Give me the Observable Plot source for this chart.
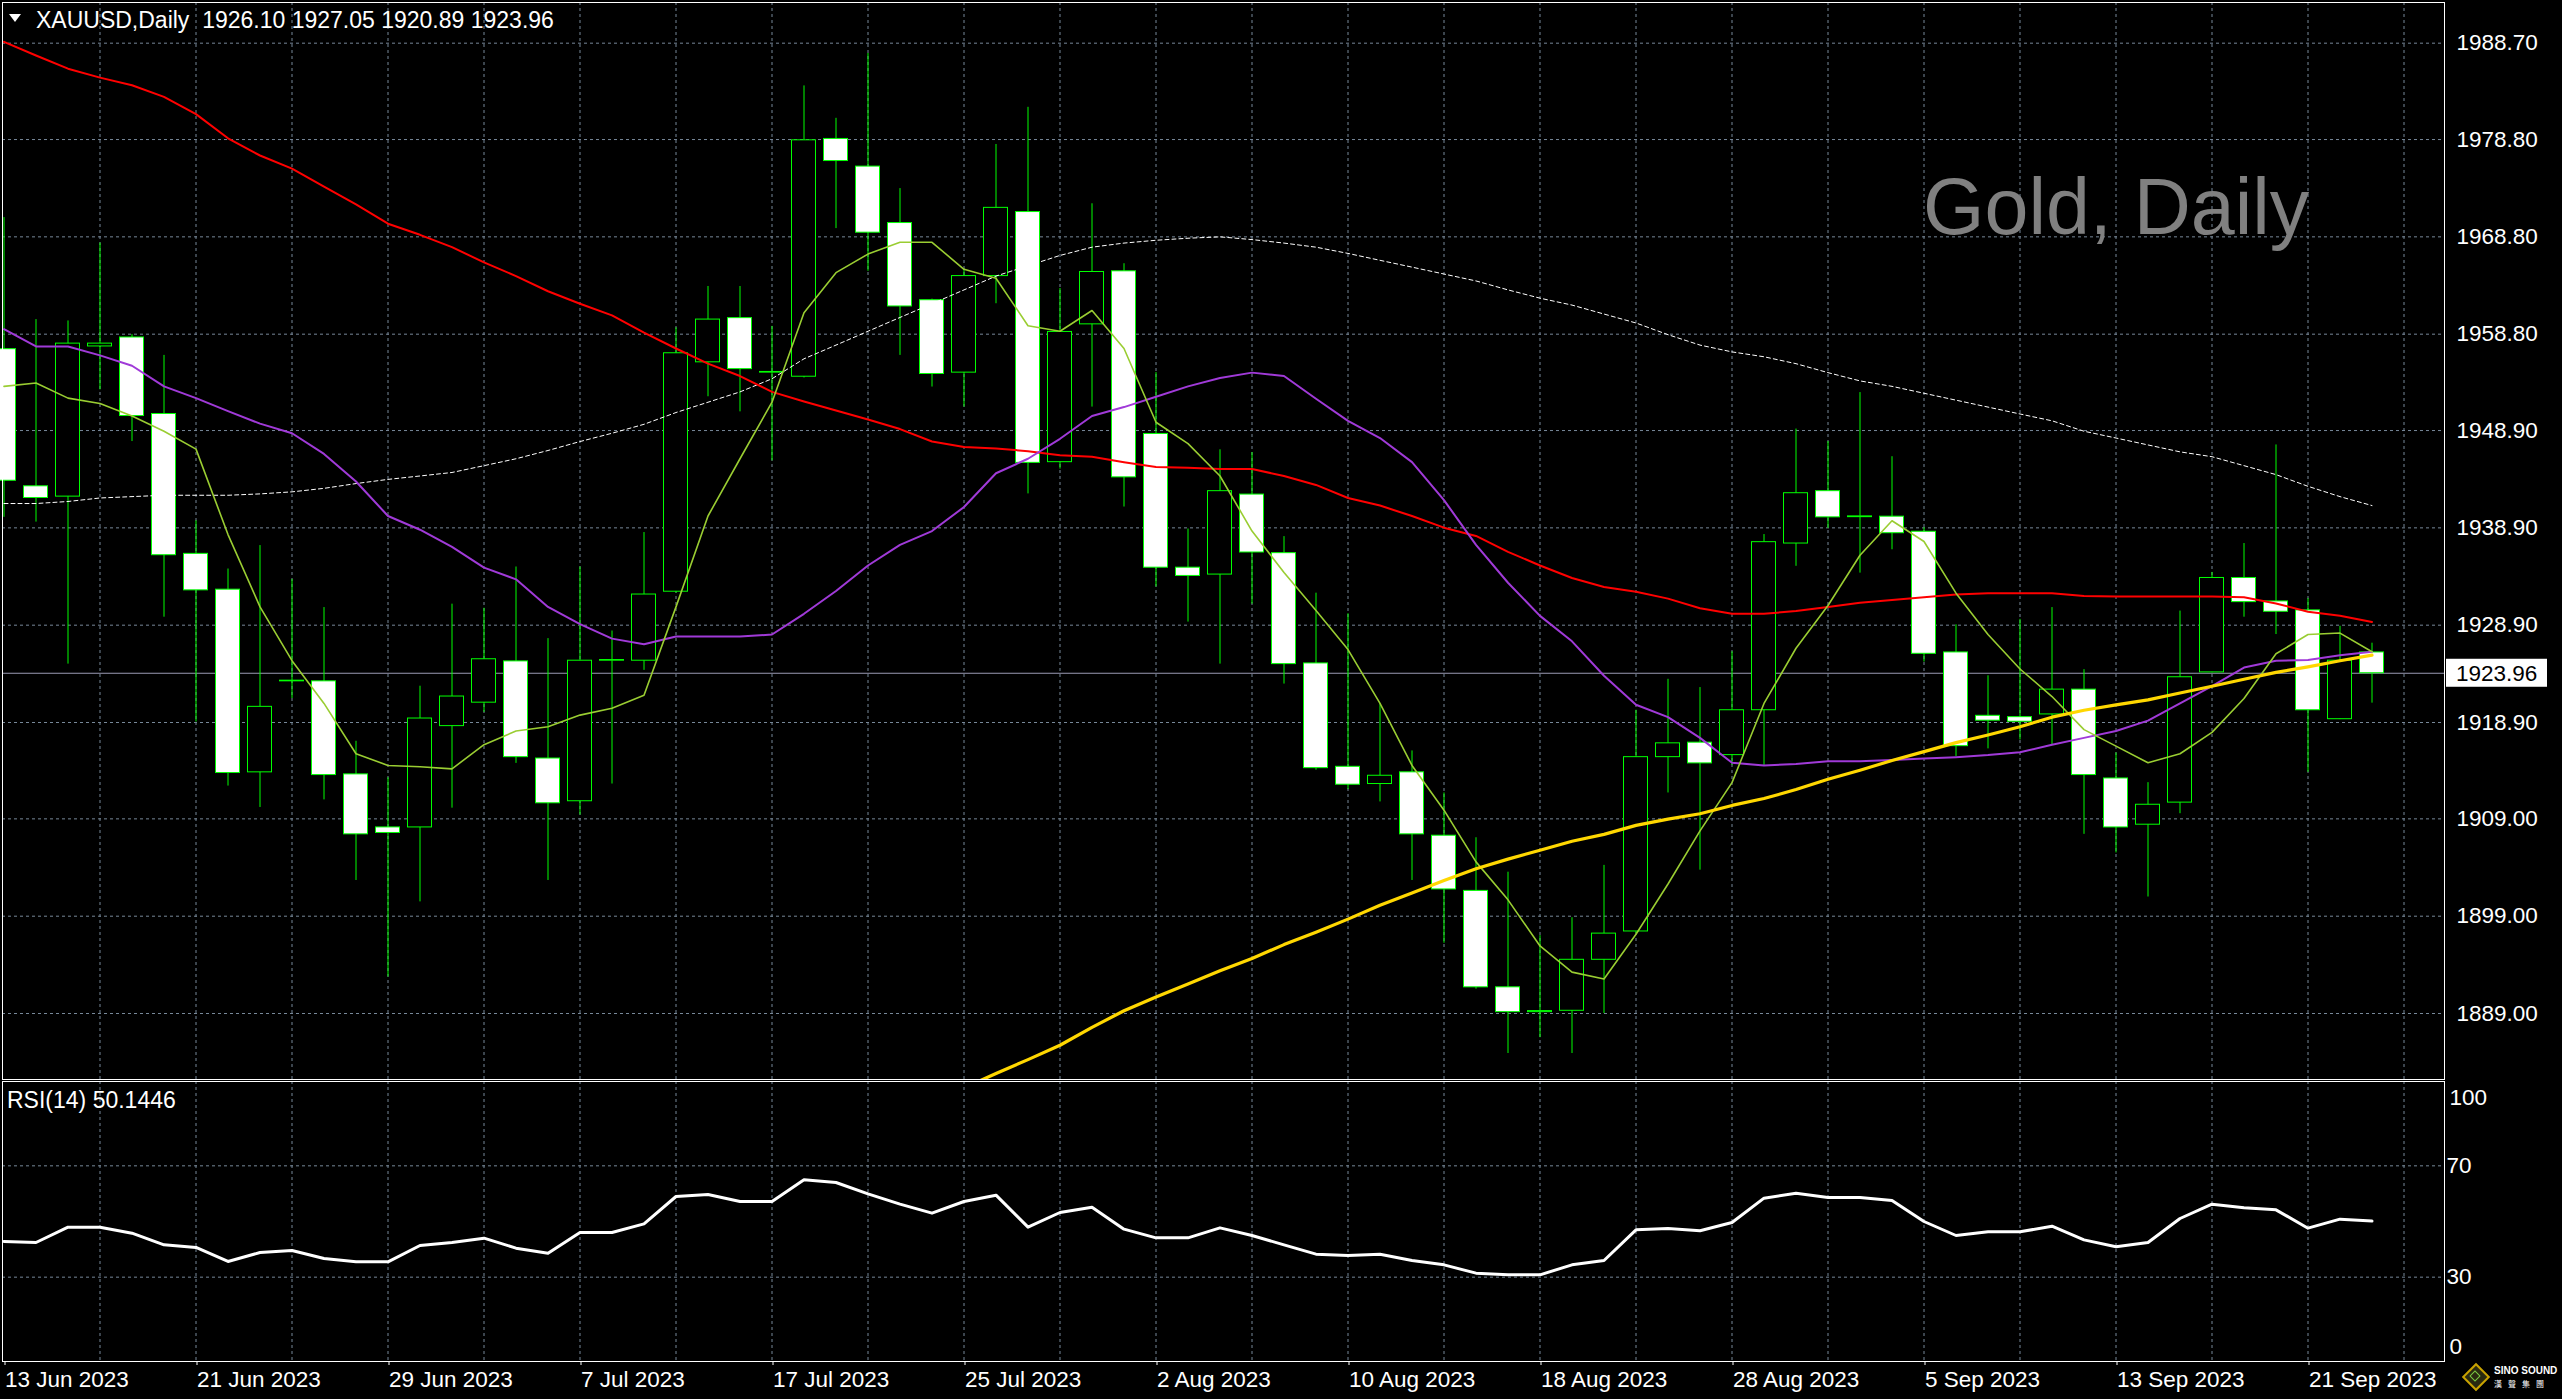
<!DOCTYPE html>
<html><head><meta charset="utf-8">
<script src="https://cdn.jsdelivr.net/npm/d3@7"></script>
<script src="https://cdn.jsdelivr.net/npm/@observablehq/plot@0.6"></script>
<style>
html,body{margin:0;padding:0;background:#000;}
#wrap{position:relative;width:2562px;height:1399px;background:#000;overflow:hidden;font-family:"Liberation Sans",Arial,sans-serif;}
#main{position:absolute;left:0;top:0;}
#rsi{position:absolute;left:0;top:1080px;}
.t{position:absolute;white-space:pre;color:#fff;line-height:1;font-family:"Liberation Sans",Arial,sans-serif;}
#tri{position:absolute;left:9px;top:14px;width:0;height:0;border-left:6px solid transparent;border-right:6px solid transparent;border-top:8px solid #fff;}
#logoD{position:absolute;left:2466px;top:1367px;width:16px;height:16px;transform:rotate(45deg);border:2px solid #c9a200;background:#2a2a10;}
#logoD2{position:absolute;left:2471px;top:1372px;width:6px;height:6px;transform:rotate(45deg);border:1px solid #7ac943;}
</style></head>
<body><div id="wrap">
<div id="main"></div><div id="rsi"></div>
<div id="tri"></div>
<div class="t" id="hdr" style="left:36px;top:8.5px;font-size:23px;">XAUUSD,Daily  1926.10 1927.05 1920.89 1923.96</div>
<div class="t" id="wm" style="left:1923px;top:167px;font-size:79px;color:#808080;">Gold, Daily</div>
<div class="t" id="rsiLbl" style="left:7px;top:1088.5px;font-size:23px;">RSI(14) 50.1446</div>
<div id="logoD"></div><div id="logoD2"></div>
<div class="t" style="left:2494px;top:1366px;font-size:10px;font-weight:bold;">SINO SOUND</div>
<div class="t" style="left:2494px;top:1380px;font-size:8px;letter-spacing:6px;font-family:'Noto Sans CJK TC',sans-serif;">漢聲集團</div>
</div>
<script>
// ---- data ----
const tickIdx = [0, 6, 12, 18, 24, 30, 36, 42, 48, 54, 60, 66, 72];
const tickLabels = ["13 Jun 2023","21 Jun 2023","29 Jun 2023","7 Jul 2023","17 Jul 2023","25 Jul 2023","2 Aug 2023","10 Aug 2023","18 Aug 2023","28 Aug 2023","5 Sep 2023","13 Sep 2023","21 Sep 2023"];
const priceTicks = [1988.70, 1978.80, 1968.80, 1958.80, 1948.90, 1938.90, 1928.90, 1918.90, 1909.00, 1899.00, 1889.00];
const rsiTicks = [70, 30];
const lastClose = 1923.96;

const opens = [1957.26,1943.17,1942.11,1957.54,1958.46,1950.60,1936.23,1932.55,1913.78,1923.13,
1923.13,1913.57,1908.12,1908.12,1918.53,1920.94,1925.18,1915.20,1910.81,1925.25,
1925.25,1932.34,1955.91,1960.45,1954.85,1954.43,1978.86,1976.02,1970.22,1962.29,
1954.85,1964.77,1971.35,1945.65,1959.81,1965.26,1948.55,1934.81,1934.10,1942.32,
1936.30,1924.97,1914.35,1912.58,1913.78,1907.27,1901.60,1891.69,1889.14,1889.28,
1894.52,1897.43,1915.34,1916.83,1915.55,1920.16,1937.29,1942.67,1940.00,1940.05,
1938.50,1926.10,1919.59,1919.45,1919.73,1922.28,1913.15,1908.40,1910.67,1924.05,
1933.75,1931.34,1930.42,1919.24,1926.10];
const highs = [1970.78,1960.30,1960.16,1968.16,1958.75,1956.62,1939.63,1934.67,1937.08,1933.61,
1930.71,1916.97,1913.22,1922.63,1931.06,1930.64,1934.88,1927.52,1934.88,1928.30,
1938.42,1959.46,1963.70,1963.70,1959.60,1984.31,1980.98,1987.64,1973.76,1962.40,
1965.47,1978.29,1982.11,1963.49,1972.20,1966.04,1954.85,1938.78,1946.92,1946.64,
1938.00,1932.19,1930.07,1920.86,1915.98,1911.66,1907.06,1903.52,1897.00,1898.84,
1904.22,1920.16,1923.34,1922.49,1926.17,1938.21,1949.05,1947.77,1952.80,1946.21,
1938.92,1928.94,1923.70,1929.50,1930.71,1924.33,1915.77,1912.72,1930.35,1934.32,
1937.29,1947.42,1931.63,1928.79,1927.05];
const lows = [1939.98,1939.49,1924.90,1953.08,1947.77,1929.72,1918.95,1912.37,1910.17,1921.36,
1910.95,1902.67,1892.75,1900.47,1910.10,1919.94,1914.70,1902.67,1909.39,1912.58,
1924.26,1932.20,1952.37,1950.82,1945.79,1954.30,1969.65,1965.26,1956.62,1953.37,
1951.31,1961.93,1942.39,1944.94,1951.31,1941.04,1932.83,1929.22,1924.90,1931.06,
1922.85,1914.00,1912.01,1910.74,1902.67,1896.22,1891.50,1884.89,1886.52,1884.89,
1889.00,1897.20,1911.66,1903.73,1914.49,1914.49,1934.95,1938.85,1934.25,1936.65,
1925.11,1915.41,1916.19,1917.11,1916.62,1907.41,1905.50,1900.97,1909.53,1924.00,
1929.72,1927.94,1913.78,1919.20,1920.89];
const closes = [1943.74,1941.97,1957.83,1957.83,1950.39,1936.09,1932.48,1913.71,1920.51,1923.20,
1913.50,1907.41,1907.55,1919.31,1921.57,1925.40,1915.34,1910.60,1925.25,1925.32,
1932.05,1956.84,1960.30,1955.21,1954.92,1978.72,1976.59,1969.23,1961.65,1954.71,
1964.77,1971.78,1945.58,1959.03,1965.19,1944.09,1934.81,1933.96,1942.67,1936.37,
1924.90,1914.21,1912.51,1913.43,1907.41,1901.75,1891.69,1889.14,1889.25,1894.52,
1897.21,1915.34,1916.76,1914.70,1920.16,1937.43,1942.46,1939.98,1940.08,1938.35,
1925.96,1916.47,1919.09,1918.98,1922.28,1913.50,1908.12,1910.45,1923.55,1933.75,
1931.27,1930.28,1920.16,1925.25,1923.96];

const maFast = [1953.44,1953.79,1952.23,1951.67,1950.39,1948.83,1946.99,1938.21,1930.78,1925.25,
1920.86,1915.69,1914.49,1914.35,1914.14,1916.62,1918.03,1918.46,1919.66,1920.37,
1921.71,1930.78,1940.12,1946.00,1951.81,1961.01,1965.12,1967.03,1968.24,1968.24,
1965.47,1964.55,1959.67,1959.10,1961.23,1957.33,1949.75,1947.56,1944.23,1938.57,
1934.32,1930.42,1926.39,1920.86,1914.49,1909.89,1904.58,1900.68,1895.94,1893.25,
1892.54,1897.14,1902.31,1907.76,1912.72,1920.86,1926.53,1930.92,1936.09,1939.63,
1937.50,1932.19,1927.94,1924.40,1921.57,1918.17,1916.47,1914.77,1915.69,1917.89,
1921.36,1925.96,1927.94,1928.09,1926.17];
const maPurple = [1959.31,1957.54,1957.54,1956.62,1955.56,1953.44,1952.23,1950.89,1949.61,1948.62,
1946.50,1943.66,1940.12,1938.71,1936.94,1934.81,1933.61,1930.78,1929.01,1927.52,
1926.95,1927.73,1927.73,1927.73,1927.94,1930.07,1932.41,1935.03,1937.15,1938.57,
1941.04,1944.51,1946.00,1948.05,1950.39,1951.31,1952.37,1953.44,1954.29,1954.85,
1954.50,1952.16,1949.90,1948.13,1945.65,1941.75,1937.15,1933.26,1929.86,1927.24,
1923.70,1920.72,1919.45,1917.32,1914.77,1914.49,1914.63,1914.92,1914.92,1915.06,
1915.20,1915.34,1915.55,1915.84,1916.62,1917.32,1918.03,1919.09,1920.86,1922.63,
1924.55,1925.25,1925.32,1925.82,1926.17];
const maRed = [1988.84,1987.43,1986.08,1985.16,1984.38,1983.18,1981.41,1978.93,1977.16,1975.81,
1973.97,1972.13,1970.15,1969.01,1967.74,1966.18,1964.77,1963.21,1961.93,1960.73,
1958.96,1957.33,1955.77,1954.50,1952.87,1951.88,1950.96,1950.04,1949.05,1947.77,
1947.21,1947.06,1946.78,1946.36,1946.21,1945.65,1945.15,1945.08,1944.94,1944.94,
1944.23,1943.31,1941.97,1941.19,1940.12,1938.92,1938.07,1936.44,1935.03,1933.75,
1932.83,1932.34,1931.63,1930.64,1930.07,1930.07,1930.35,1930.78,1931.20,1931.49,
1931.77,1932.05,1932.19,1932.19,1932.19,1931.91,1931.84,1931.84,1931.84,1931.84,
1931.77,1931.13,1930.28,1929.86,1929.22];
const maWhite = [1941.40,1941.40,1941.61,1941.97,1942.11,1942.25,1942.25,1942.25,1942.39,1942.60,
1942.96,1943.45,1943.88,1944.23,1944.59,1945.29,1946.00,1946.85,1947.77,1948.62,
1949.54,1950.75,1951.81,1952.87,1954.22,1956.27,1957.68,1959.10,1960.52,1961.93,
1963.35,1964.77,1965.83,1966.89,1967.74,1968.16,1968.45,1968.66,1968.80,1968.52,
1968.16,1967.74,1967.10,1966.39,1965.69,1964.98,1964.27,1963.35,1962.50,1961.79,
1960.87,1959.95,1958.75,1957.68,1956.98,1956.48,1955.77,1954.85,1954.00,1953.44,
1952.73,1952.02,1951.31,1950.60,1949.90,1948.83,1948.13,1947.42,1946.71,1946.21,
1945.29,1944.37,1943.17,1942.11,1941.19];
const goldStart = 30;
const maGold = [1881.35,1882.84,1884.26,1885.74,1887.58,1889.28,1890.70,1892.04,1893.39,1894.66,
1896.08,1897.35,1898.70,1900.12,1901.39,1902.66,1903.87,1904.86,1905.78,1906.70,
1907.41,1908.33,1908.97,1909.53,1910.38,1911.09,1912.01,1913.07,1914.00,1914.99,
1915.91,1916.83,1917.61,1918.46,1919.45,1920.16,1920.72,1921.22,1921.93,1922.63,
1923.34,1924.05,1924.62,1925.25,1925.82];
const rsi = [42.81,42.46,47.96,47.96,45.81,41.62,40.66,35.63,38.86,39.58,
36.71,35.51,35.51,41.38,42.46,44.01,40.42,38.62,46.05,46.05,
49.16,58.98,59.70,57.19,57.19,64.97,64.01,59.94,56.23,52.99,
57.19,59.46,47.96,53.23,55.15,47.25,44.13,44.13,47.72,44.97,
41.62,38.26,37.78,38.26,35.99,34.43,31.44,30.84,30.84,34.43,
35.99,47.01,47.49,46.65,49.64,58.38,60.18,58.62,58.62,57.54,
50.00,44.97,46.29,46.29,48.32,43.41,40.90,42.46,51.08,56.23,
54.91,54.19,47.60,50.84,50.14];

// ---- build ----
const rows = opens.map((o, i) => ({i, o, h: highs[i], l: lows[i], c: closes[i]}));
const bulls = rows.filter(d => d.c >= d.o);
const bears = rows.filter(d => d.c < d.o);
const vGrid = d3.range(3, 76, 3);
const xDomain = [-0.046875, 76.265625];
const gridStyle = {stroke: "#778899", strokeDasharray: "3,3", strokeWidth: 1};
const green = "#00ff00";
const baseStyle = {background: "#000", color: "#fff", fontFamily: "'Liberation Sans', Arial, sans-serif", fontSize: "22.5px", overflow: "visible"};
const series = (arr, off = 0) => arr.map((v, k) => ({i: k + off, v}));

const main = Plot.plot({
  width: 2562, height: 1080,
  marginLeft: 2, marginRight: 118, marginTop: 2, marginBottom: 1,
  style: baseStyle,
  x: {type: "linear", domain: xDomain, axis: null, label: null},
  y: {domain: [1882.22, 1992.88], axis: null, label: null},
  marks: [
    Plot.ruleX(vGrid, gridStyle),
    Plot.ruleY(priceTicks, gridStyle),
    Plot.ruleY([lastClose], {stroke: "#9a9ab4", strokeWidth: 1}),
    Plot.ruleX(rows, {x: "i", y1: "l", y2: "h", stroke: green, strokeWidth: 1}),
    Plot.rect(bulls, {x1: d => d.i - 0.375, x2: d => d.i + 0.375, y1: "o", y2: "c", fill: "#000", stroke: green, strokeWidth: 1}),
    Plot.rect(bears, {x1: d => d.i - 0.375, x2: d => d.i + 0.375, y1: "c", y2: "o", fill: "#fff", stroke: green, strokeWidth: 1}),
    Plot.line(series(maWhite), {x: "i", y: "v", stroke: "#ffffff", strokeWidth: 1, strokeDasharray: "4,3"}),
    Plot.line(series(maRed), {x: "i", y: "v", stroke: "#ff0000", strokeWidth: 2}),
    Plot.line(series(maPurple), {x: "i", y: "v", stroke: "#a03ad8", strokeWidth: 2}),
    Plot.line(series(maFast), {x: "i", y: "v", stroke: "#9acd32", strokeWidth: 1.6}),
    Plot.line(series(maGold, goldStart), {x: "i", y: "v", stroke: "#ffd700", strokeWidth: 3.2, clip: true}),
    Plot.frame({stroke: "#fff", strokeWidth: 1}),
    Plot.axisY(priceTicks, {anchor: "right", label: null, tickSize: 0, tickPadding: 12, tickFormat: d => d.toFixed(2), fill: "#fff"})
  ]
});
document.getElementById("main").appendChild(main);

// current price tag, positioned through the plot's own scales
{
  const ys = main.scale("y"), xs = main.scale("x");
  const yy = ys.apply(lastClose);
  const xr = xs.range[1];
  const g = d3.select(main).append("g").attr("text-anchor", "start");
  g.append("rect").attr("x", xr + 2).attr("y", yy - 14).attr("width", 101).attr("height", 28).attr("fill", "#fff");
  g.append("text").attr("x", xr + 12).attr("y", yy).attr("dy", "0.36em").attr("fill", "#000")
    .attr("text-anchor", "start").style("font-size", "22.5px").text(lastClose.toFixed(2));
}

const rsiPlot = Plot.plot({
  width: 2562, height: 319,
  marginLeft: 2, marginRight: 118, marginTop: 1, marginBottom: 38,
  style: baseStyle,
  x: {type: "linear", domain: xDomain, axis: null, label: null},
  y: {domain: [-0.3, 100.3], axis: null, label: null},
  marks: [
    Plot.ruleX(vGrid, gridStyle),
    Plot.ruleY(rsiTicks, gridStyle),
    Plot.line(series(rsi), {x: "i", y: "v", stroke: "#fff", strokeWidth: 3}),
    Plot.frame({stroke: "#fff", strokeWidth: 1}),
    Plot.axisY(rsiTicks, {anchor: "right", label: null, tickSize: 0, tickPadding: 2, fill: "#fff"}),
    Plot.text([100], {y: d => d, text: d => String(d), frameAnchor: "right", dx: 5, dy: 15.5, textAnchor: "start", fill: "#fff"}),
    Plot.text([0], {y: d => d, text: d => String(d), frameAnchor: "right", dx: 5, dy: -14, textAnchor: "start", fill: "#fff"}),
    Plot.axisX(tickIdx, {anchor: "bottom", label: null, tickSize: 4, tickPadding: 6, textAnchor: "start", dx: 1,
      tickFormat: d => tickLabels[tickIdx.indexOf(d)], fill: "#fff", stroke: "#fff"})
  ]
});
document.getElementById("rsi").appendChild(rsiPlot);
</script>
</body></html>
